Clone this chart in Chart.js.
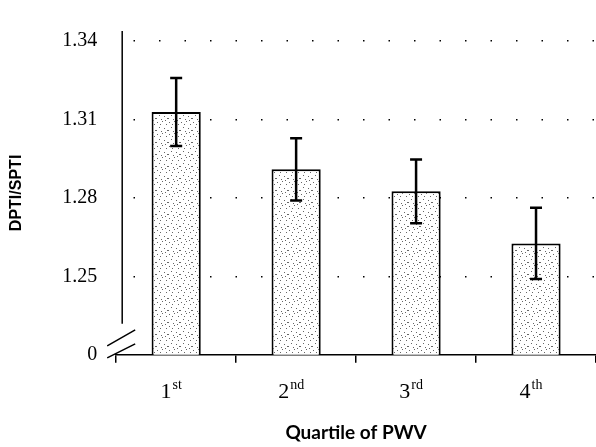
<!DOCTYPE html>
<html>
<head>
<meta charset="utf-8">
<script src="https://cdn.jsdelivr.net/npm/chart.js@4"></script>
<style>
  html, body { margin: 0; padding: 0; background: #fff; }
  #wrap { width: 596px; height: 447px; }
</style>
</head>
<body>
<div id="wrap"><canvas id="pwv-chart"></canvas></div>
<script>
// data
const quartiles = ['1st', '2nd', '3rd', '4th'];
const ratioMeans = [1.3128, 1.2909, 1.2825, 1.2626];
const ratioErrors = [0.0130, 0.0119, 0.0122, 0.0136];
const yTicks = [1.22, 1.25, 1.28, 1.31, 1.34];
const yTickLabels = ['0', '1.25', '1.28', '1.31', '1.34'];

// stippled fill for the bars
function stipple() {
  const c = document.createElement('canvas');
  c.width = 12; c.height = 12;
  const g = c.getContext('2d');
  g.fillStyle = '#fff';
  g.fillRect(0, 0, 12, 12);
  g.fillStyle = '#666';
  [[1,2],[6,1],[10,4],[3,7],[8,8],[0,10],[5,11],[11,10],[4,4],[9,0]].forEach(function (p) {
    g.fillRect(p[0], p[1], 1, 1);
  });
  return g.createPattern(c, 'repeat');
}
const ctx0 = document.getElementById('pwv-chart').getContext('2d');

const errorBars = {
  id: 'errorBars',
  afterDatasetsDraw(chart) {
    const ctx = chart.ctx, y = chart.scales.y;
    const meta = chart.getDatasetMeta(0);
    ctx.save();
    ctx.strokeStyle = '#000';
    ctx.lineWidth = 2.5;
    meta.data.forEach(function (bar, i) {
      const top = y.getPixelForValue(ratioMeans[i] + ratioErrors[i]);
      const bot = y.getPixelForValue(ratioMeans[i] - ratioErrors[i]);
      ctx.beginPath();
      ctx.moveTo(bar.x, top); ctx.lineTo(bar.x, bot);
      ctx.moveTo(bar.x - 6, top); ctx.lineTo(bar.x + 6, top);
      ctx.moveTo(bar.x - 6, bot); ctx.lineTo(bar.x + 6, bot);
      ctx.stroke();
    });
    ctx.restore();
  }
};

// y axis line with the break, and superscript x labels
const axisExtras = {
  id: 'axisExtras',
  afterDraw(chart) {
    const ctx = chart.ctx, a = chart.chartArea, x = chart.scales.x;
    ctx.save();
    ctx.strokeStyle = '#000';
    ctx.lineWidth = 1.5;
    const ax = a.left + 6;
    ctx.beginPath();
    ctx.moveTo(ax, a.top); ctx.lineTo(ax, a.bottom - 31);
    ctx.moveTo(a.left - 9, a.bottom - 9); ctx.lineTo(a.left + 19, a.bottom - 25);
    ctx.moveTo(a.left - 9, a.bottom + 3); ctx.lineTo(a.left + 19, a.bottom - 11);
    ctx.stroke();

    ctx.fillStyle = '#000';
    ctx.textBaseline = 'middle';
    ctx.textAlign = 'left';
    quartiles.forEach(function (q, i) {
      const num = q.slice(0, 1), sup = q.slice(1);
      ctx.font = '22px "Liberation Serif"';
      const w1 = ctx.measureText(num).width;
      ctx.font = '14px "Liberation Serif"';
      const w2 = ctx.measureText(sup).width;
      const cx = x.getPixelForTick(i) - 5;
      const left = cx - (w1 + w2 + 1) / 2;
      ctx.font = '22px "Liberation Serif"';
      ctx.fillText(num, left, 392);
      ctx.font = '14px "Liberation Serif"';
      ctx.fillText(sup, left + w1 + 1, 385);
    });
    ctx.restore();
  }
};

new Chart(ctx0, {
  type: 'bar',
  data: {
    labels: quartiles,
    datasets: [{
      data: ratioMeans,
      backgroundColor: stipple(),
      borderColor: '#000',
      borderWidth: 2,
      barPercentage: 0.82,
      categoryPercentage: 0.5
    }]
  },
  options: {
    responsive: true,
    maintainAspectRatio: false,
    animation: false,
    layout: { padding: { top: 22, right: -4, bottom: 0, left: 0 } },
    plugins: {
      legend: { display: false },
      tooltip: { enabled: false }
    },
    scales: {
      x: {
        grid: { display: true, drawOnChartArea: false, drawTicks: true, tickLength: 8, color: '#000', lineWidth: 1.5 },
        border: { display: true, color: '#000', width: 1.5 },
        ticks: { color: 'rgba(0,0,0,0)', padding: 9, font: { family: 'Liberation Serif', size: 22 } },
        title: {
          display: true,
          text: 'Quartile of PWV',
          color: '#000',
          font: { family: 'Lato', size: 19, weight: 'bold' },
          padding: { top: 14, bottom: 3 }
        }
      },
      y: {
        min: 1.22,
        max: 1.3438,
        afterBuildTicks(scale) {
          scale.ticks = yTicks.map(function (v) { return { value: v }; });
        },
        grid: {
          drawTicks: false,
          color: function (c) { return c.tick && c.tick.value === 1.22 ? 'rgba(0,0,0,0)' : '#000'; },
          lineWidth: 1.5
        },
        border: { display: false, dash: [1.5, 24], dashOffset: 8 },
        ticks: {
          color: '#000',
          padding: 19,
          font: { family: 'Liberation Serif', size: 20 },
          callback: function (v) { return yTickLabels[yTicks.indexOf(v)]; }
        },
        title: {
          display: true,
          text: 'DPTI/SPTI',
          color: '#000',
          font: { family: 'Liberation Sans', size: 16, weight: 'bold' },
          padding: { top: 7, bottom: 17 }
        }
      }
    }
  },
  plugins: [errorBars, axisExtras]
});
</script>
</body>
</html>
